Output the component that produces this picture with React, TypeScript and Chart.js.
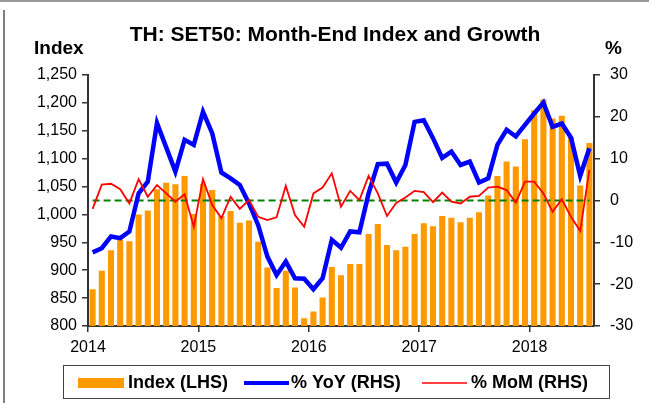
import React, { useEffect, useRef } from 'react';
import { Chart, registerables } from 'chart.js';

Chart.register(...registerables);

const years = ['2014', '2015', '2016', '2017', '2018'];
const monthNames = ['Jan', 'Feb', 'Mar', 'Apr', 'May', 'Jun', 'Jul', 'Aug', 'Sep', 'Oct', 'Nov', 'Dec'];
const categories: string[] = [];
years.forEach((y) => monthNames.forEach((m) => categories.push(m + ' ' + y)));
const labels = categories.slice(0, 55);

const indexValues = [
  866, 899, 936, 955, 952, 1000, 1007, 1045, 1057, 1054, 1069, 1001,
  1055, 1044, 997, 1006, 985, 989, 951, 905, 868, 899, 869, 814,
  826, 851, 906, 891, 911, 911, 965, 983, 945, 936, 942, 965,
  984, 979, 997, 994, 986, 994, 1004, 1034, 1069, 1095, 1086, 1135,
  1187, 1206, 1172, 1177, 1138, 1052, 1128,
];

const yoyValues = [
  -12.4, -11.4, -8.6, -9.0, -7.4, 1.7, 4.5, 18.5, 12.7, 6.9, 14.5, 13.3,
  21.2, 16.1, 6.7, 5.3, 3.7, -0.7, -5.9, -13.4, -17.8, -14.6, -18.6, -18.7,
  -21.2, -18.6, -9.4, -11.3, -7.4, -7.6, 1.7, 8.7, 8.8, 4.3, 8.5, 18.8,
  19.2, 14.9, 10.2, 11.7, 8.5, 9.3, 4.3, 5.3, 13.3, 16.9, 15.3, 18.1,
  20.8, 23.4, 17.6, 18.4, 15.0, 5.9, 12.5,
];

const momValues = [
  -2.0, 3.8, 4.0, 2.7, -0.7, 5.1, 0.9, 3.7, 1.7, -0.3, 1.5, -6.3,
  5.1, -1.1, -4.2, 0.9, -2.0, 0.1, -3.9, -4.7, -4.0, 3.5, -3.5, -6.3,
  1.7, 3.1, 6.5, -1.5, 2.3, 0.1, 5.9, 1.7, -3.7, -0.6, 0.7, 2.3,
  2.0, -0.4, 1.9, -0.3, -0.7, 0.9, 1.1, 3.1, 3.3, 2.5, -0.5, 4.5,
  4.5, 1.7, -2.7, 0.3, -3.9, -7.3, 7.3,
];

const zeroLine = labels.map(() => 0);

const leftTicks = { min: 800, max: 1250, step: 50 };
const rightTicks = { min: -30, max: 30, step: 10 };
const yearTickPositions = [0, 12, 24, 36, 48];

const FONT = "'Liberation Sans', Arial, sans-serif";

const decorPlugin = {
  id: 'decor',
  afterDraw(chart: any) {
    const ctx = chart.ctx;
    ctx.save();
    // frame
    ctx.strokeStyle = '#9a9a9a';
    ctx.lineWidth = 2;
    ctx.beginPath();
    ctx.moveTo(0, 1);
    ctx.lineTo(649, 1);
    ctx.stroke();
    ctx.strokeStyle = '#555';
    ctx.lineWidth = 1.5;
    ctx.beginPath();
    ctx.moveTo(4, 10);
    ctx.lineTo(4, 403);
    ctx.stroke();

    // title and axis titles
    ctx.fillStyle = '#000';
    ctx.textBaseline = 'alphabetic';
    ctx.font = `bold 21px ${FONT}`;
    ctx.textAlign = 'center';
    ctx.fillText('TH: SET50: Month-End Index and Growth', 335, 41);
    ctx.font = `bold 19px ${FONT}`;
    ctx.textAlign = 'left';
    ctx.fillText('Index', 34, 54);
    ctx.fillText('%', 605, 54);

    // legend
    ctx.strokeStyle = '#444';
    ctx.lineWidth = 1;
    ctx.strokeRect(63.5, 365.5, 546, 33);
    const ds = chart.data.datasets;
    const cy = 383;
    ctx.font = `bold 18px ${FONT}`;
    ctx.textBaseline = 'middle';
    ctx.fillStyle = ds[0].backgroundColor;
    ctx.fillRect(78, 378, 46, 10);
    ctx.fillStyle = '#000';
    ctx.fillText(ds[0].label, 128, cy);
    ctx.strokeStyle = ds[1].borderColor;
    ctx.lineWidth = 4;
    ctx.beginPath();
    ctx.moveTo(244, cy);
    ctx.lineTo(289, cy);
    ctx.stroke();
    ctx.fillText(ds[1].label, 291, cy);
    ctx.strokeStyle = ds[2].borderColor;
    ctx.lineWidth = 1.5;
    ctx.beginPath();
    ctx.moveTo(422, cy);
    ctx.lineTo(467, cy);
    ctx.stroke();
    ctx.fillText(ds[2].label, 471, cy);
    ctx.restore();
  },
};

export default function App() {
  const ref = useRef<HTMLCanvasElement>(null);

  useEffect(() => {
    if (!ref.current) return;
    const chart = new Chart(ref.current, {
      type: 'bar',
      data: {
        labels,
        datasets: [
          {
            type: 'bar',
            label: 'Index (LHS)',
            data: indexValues,
            backgroundColor: '#FF9900',
            borderWidth: 0,
            xAxisID: 'x',
            yAxisID: 'y',
            categoryPercentage: 1,
            barPercentage: 0.66,
            order: 3,
          },
          {
            type: 'line',
            label: '% YoY (RHS)',
            data: yoyValues,
            borderColor: '#0000FF',
            backgroundColor: '#0000FF',
            borderWidth: 4.5,
            pointRadius: 0,
            tension: 0,
            xAxisID: 'x',
            yAxisID: 'y1',
            order: 1,
          },
          {
            type: 'line',
            label: '% MoM (RHS)',
            data: momValues,
            borderColor: '#FF0000',
            backgroundColor: '#FF0000',
            borderWidth: 1.8,
            pointRadius: 0,
            tension: 0,
            xAxisID: 'x',
            yAxisID: 'y1',
            order: 0,
          },
          {
            type: 'line',
            label: 'zero',
            data: zeroLine,
            borderColor: '#008000',
            borderWidth: 2,
            borderDash: [7, 4],
            pointRadius: 0,
            xAxisID: 'x',
            yAxisID: 'y1',
            order: 2,
          },
        ],
      } as any,
      options: {
        animation: false,
        responsive: false,
        maintainAspectRatio: false,
        layout: { padding: { top: 75, bottom: 47, left: 0, right: 0 } },
        plugins: {
          legend: { display: false },
          title: { display: false },
          tooltip: { enabled: false },
        },
        scales: {
          x: {
            type: 'category',
            display: false,
            offset: true,
          },
          xYear: {
            type: 'linear',
            position: 'bottom',
            min: 0,
            max: labels.length,
            offset: false,
            afterBuildTicks: (scale: any) => {
              scale.ticks = yearTickPositions.map((v) => ({ value: v }));
            },
            afterFit: (scale: any) => {
              scale.height = 30;
            },
            ticks: {
              callback: (v: any) => years[Math.round(Number(v) / 12)],
              font: { family: FONT, size: 16 },
              color: '#000',
              padding: 6,
              maxRotation: 0,
              autoSkip: false,
            },
            grid: { offset: false, drawOnChartArea: false, drawTicks: true, tickLength: 6, color: '#333', lineWidth: 1.5 },
            border: { display: true, color: '#333', width: 2 },
          },
          y: {
            type: 'linear',
            position: 'left',
            min: leftTicks.min,
            max: leftTicks.max,
            afterFit: (scale: any) => {
              scale.width = 88;
            },
            ticks: {
              stepSize: leftTicks.step,
              font: { family: FONT, size: 16 },
              color: '#000',
              padding: 5,
            },
            grid: { drawOnChartArea: false, drawTicks: true, tickLength: 6, color: '#333', lineWidth: 1.5 },
            border: { display: true, color: '#333', width: 2 },
          },
          y1: {
            type: 'linear',
            position: 'right',
            min: rightTicks.min,
            max: rightTicks.max,
            afterFit: (scale: any) => {
              scale.width = 55;
            },
            ticks: {
              stepSize: rightTicks.step,
              font: { family: FONT, size: 16 },
              color: '#000',
              padding: 10,
            },
            grid: { drawOnChartArea: false, drawTicks: true, tickLength: 6, color: '#333', lineWidth: 1.5 },
            border: { display: true, color: '#333', width: 2 },
          },
        },
      } as any,
      plugins: [decorPlugin],
    });
    return () => chart.destroy();
  }, []);

  return (
    <div style={{ position: 'absolute', left: 0, top: 0, width: 649, height: 403, background: '#fff' }}>
      <canvas ref={ref} width={649} height={403} />
    </div>
  );
}
